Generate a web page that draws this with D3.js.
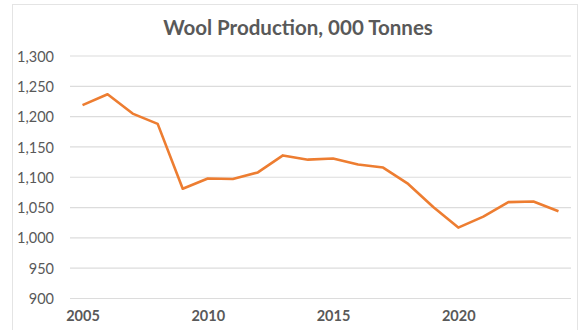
<!DOCTYPE html>
<html>
<head>
<meta charset="utf-8">
<script src="https://cdn.jsdelivr.net/npm/d3@7"></script>
<style>
  html, body { margin: 0; padding: 0; background: #fff; }
  svg { display: block; }
</style>
</head>
<body>
<svg id="chart" width="578" height="330"></svg>
<script>
// Annual wool production, thousand tonnes
const years = [2005, 2006, 2007, 2008, 2009, 2010, 2011, 2012, 2013, 2014,
               2015, 2016, 2017, 2018, 2019, 2020, 2021, 2022, 2023, 2024];
const production = [1219, 1237, 1205, 1188, 1081, 1098, 1097, 1108, 1136, 1129,
                    1131, 1121, 1116, 1089, 1051, 1017, 1035, 1059, 1060, 1044];
const yTicks = [900, 950, 1000, 1050, 1100, 1150, 1200, 1250, 1300];
const xTicks = [2005, 2010, 2015, 2020];
const title = "Wool Production, 000 Tonnes";

const svg = d3.select("#chart");
const plot = { left: 70, right: 571, top: 56, bottom: 298.5 };
const textColor = "#595959";
const fontFamily = "Lato, 'Open Sans', sans-serif";

// Chart frame
svg.append("rect")
  .attr("x", 12.5).attr("y", 4.5)
  .attr("width", 565).attr("height", 340)
  .attr("fill", "#fff")
  .attr("stroke", "#e4e4e4")
  .attr("stroke-width", 1);

const x = d3.scaleLinear()
  .domain([years[0] - 0.5, years[years.length - 1] + 0.5])
  .range([plot.left, plot.right]);

const y = d3.scaleLinear()
  .domain([900, 1300])
  .range([plot.bottom, plot.top]);

// Horizontal gridlines
svg.append("g")
  .selectAll("line")
  .data(yTicks)
  .join("line")
  .attr("x1", plot.left).attr("x2", plot.right)
  .attr("y1", d => y(d)).attr("y2", d => y(d))
  .attr("stroke", "#dcdcdc")
  .attr("stroke-width", 1.2);

// Y axis labels
const yAxis = d3.axisLeft(y)
  .tickValues(yTicks)
  .tickFormat(d3.format(","))
  .tickSize(0)
  .tickPadding(0);
svg.append("g")
  .attr("transform", `translate(${plot.left - 16},0)`)
  .call(yAxis)
  .call(g => g.select(".domain").remove())
  .call(g => g.selectAll("text")
    .attr("fill", textColor)
    .attr("font-family", fontFamily)
    .attr("font-size", 14.5)
    .attr("dy", "0.35em"));

// X axis labels
const xAxis = d3.axisBottom(x)
  .tickValues(xTicks)
  .tickFormat(d3.format("d"))
  .tickSize(0)
  .tickPadding(0);
svg.append("g")
  .attr("transform", `translate(0,${plot.bottom + 12})`)
  .call(xAxis)
  .call(g => g.select(".domain").remove())
  .call(g => g.selectAll("text")
    .attr("fill", textColor)
    .attr("font-family", fontFamily)
    .attr("font-weight", "bold")
    .attr("font-size", 14.5)
    .attr("dy", "0.71em"));

// Production line
const line = d3.line()
  .x((d, i) => x(years[i]))
  .y(d => y(d));
svg.append("path")
  .datum(production)
  .attr("d", line)
  .attr("fill", "none")
  .attr("stroke", "#ED7D31")
  .attr("stroke-width", 2.6)
  .attr("stroke-linejoin", "round");

// Title
svg.append("text")
  .attr("x", 298).attr("y", 35)
  .attr("text-anchor", "middle")
  .attr("fill", textColor)
  .attr("font-family", fontFamily)
  .attr("font-weight", "bold")
  .attr("font-size", 20.5)
  .text(title);
</script>
</body>
</html>
